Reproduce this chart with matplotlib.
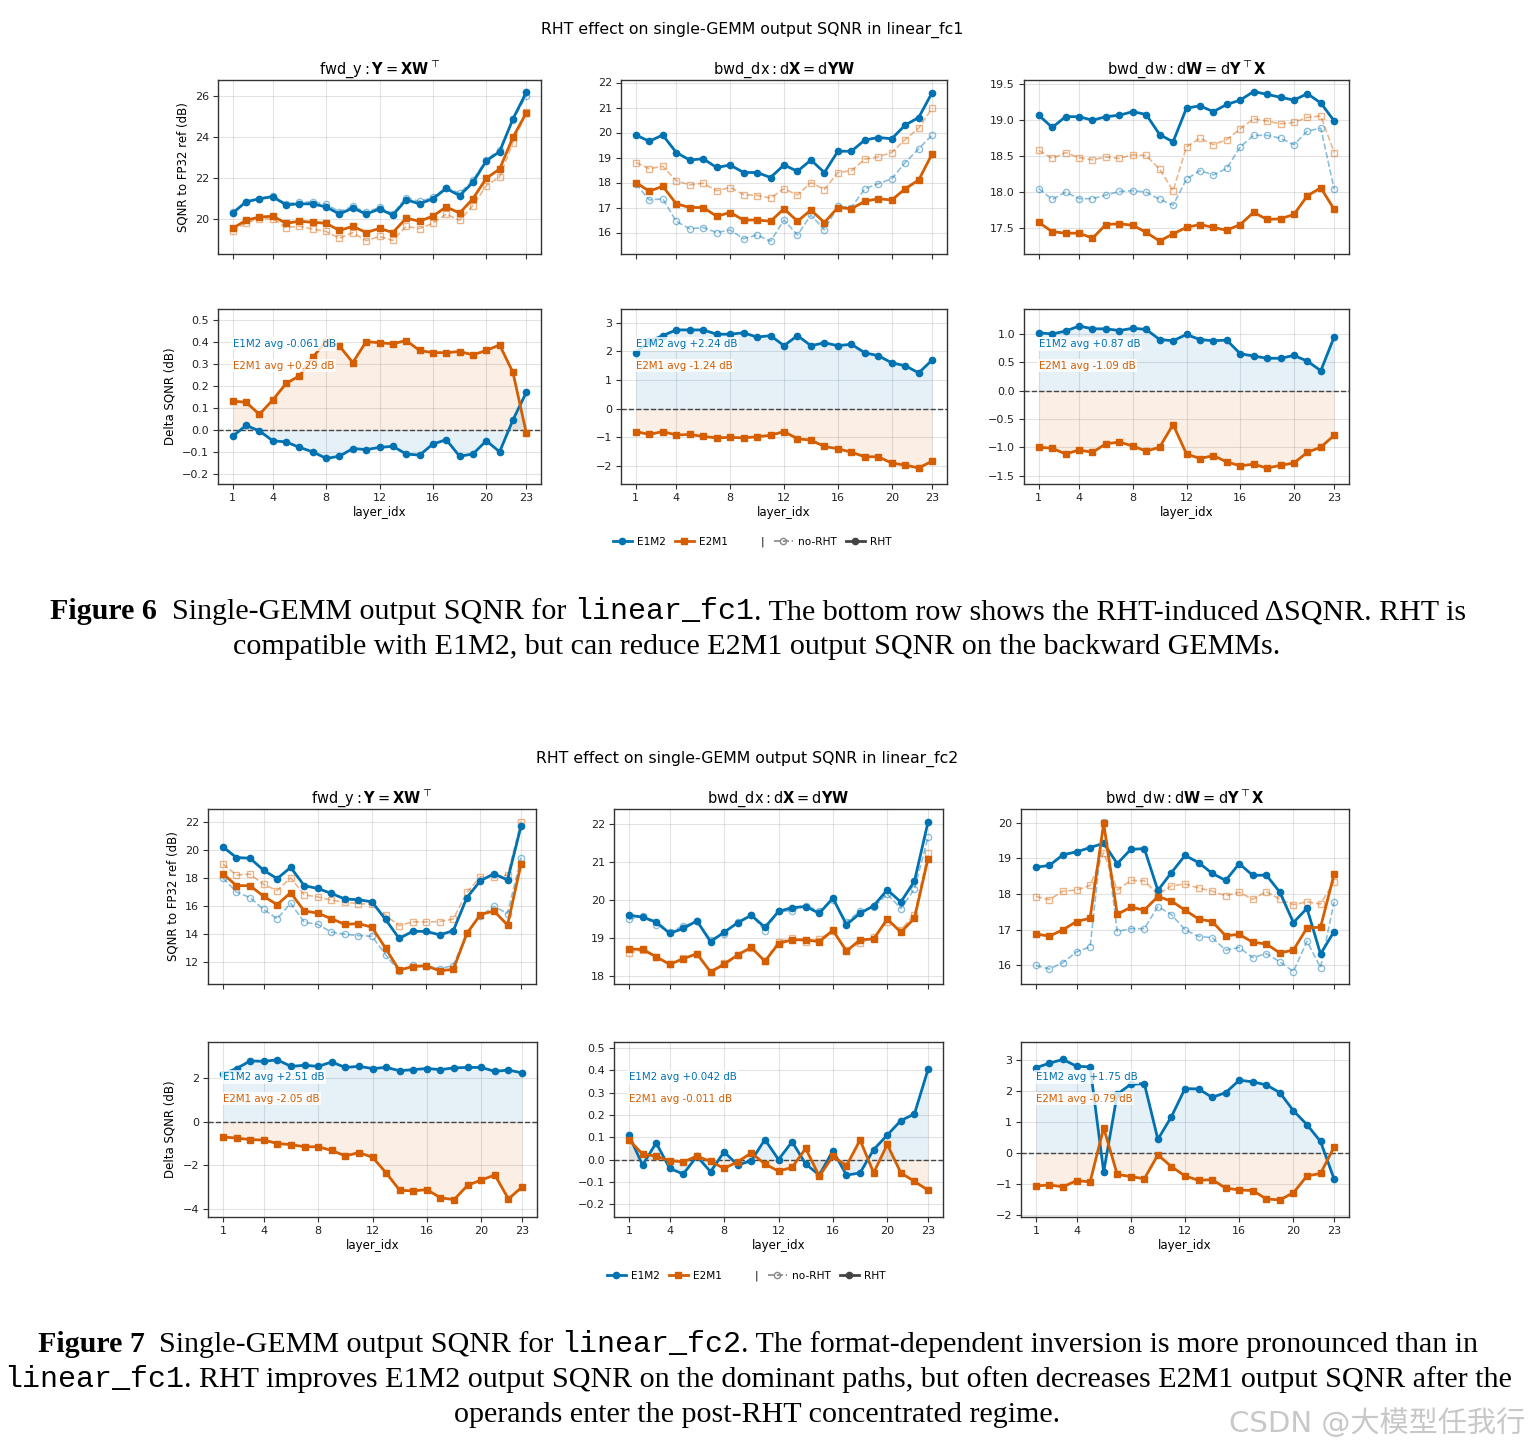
import matplotlib
matplotlib.use("Agg")
import matplotlib.pyplot as plt
from matplotlib.transforms import IdentityTransform
from matplotlib.lines import Line2D
from matplotlib.ticker import MultipleLocator
import numpy as np

# ---------------- data ----------------
layers = list(range(1, 24))
xticks = [1, 4, 8, 12, 16, 20, 23]

# linear_fc1
fc1_fwd_e1m2_rht = [20.30, 20.85, 21.00, 21.10, 20.70, 20.75, 20.75, 20.60, 20.25, 20.55, 20.25, 20.50, 20.20, 20.95, 20.75, 21.00, 21.50, 21.15, 21.80, 22.85, 23.30, 24.90, 26.20]
fc1_fwd_e1m2_delta = [-0.030, 0.020, -0.005, -0.050, -0.055, -0.080, -0.100, -0.130, -0.120, -0.085, -0.090, -0.080, -0.075, -0.110, -0.115, -0.065, -0.045, -0.120, -0.110, -0.050, -0.100, 0.045, 0.170]
fc1_fwd_e2m1_rht = [19.55, 19.95, 20.10, 20.15, 19.80, 19.90, 19.85, 19.80, 19.45, 19.65, 19.35, 19.55, 19.35, 20.05, 19.90, 20.15, 20.60, 20.30, 21.00, 22.00, 22.45, 24.00, 25.20]
fc1_fwd_e2m1_delta = [0.130, 0.125, 0.070, 0.135, 0.210, 0.245, 0.330, 0.400, 0.380, 0.305, 0.400, 0.395, 0.390, 0.405, 0.360, 0.350, 0.350, 0.355, 0.340, 0.360, 0.385, 0.260, -0.015]

fc1_dx_e1m2_rht = [19.90, 19.65, 19.90, 19.20, 18.90, 18.95, 18.60, 18.70, 18.40, 18.40, 18.20, 18.70, 18.45, 18.90, 18.40, 19.25, 19.25, 19.70, 19.80, 19.75, 20.30, 20.60, 21.60]
fc1_dx_e1m2_delta = [1.95, 2.35, 2.55, 2.75, 2.75, 2.75, 2.60, 2.60, 2.65, 2.50, 2.55, 2.20, 2.55, 2.20, 2.30, 2.20, 2.25, 1.95, 1.85, 1.60, 1.50, 1.25, 1.70]
fc1_dx_e2m1_rht = [18.00, 17.65, 17.85, 17.15, 17.00, 17.00, 16.65, 16.80, 16.50, 16.50, 16.45, 16.95, 16.45, 16.90, 16.40, 17.00, 16.95, 17.25, 17.35, 17.30, 17.75, 18.10, 19.15]
fc1_dx_e2m1_delta = [-0.80, -0.90, -0.80, -0.92, -0.90, -0.97, -1.02, -1.00, -1.02, -0.98, -0.93, -0.80, -1.05, -1.10, -1.32, -1.40, -1.52, -1.68, -1.68, -1.90, -1.97, -2.07, -1.83]

fc1_dw_e1m2_rht = [19.07, 18.90, 19.05, 19.05, 19.00, 19.05, 19.07, 19.12, 19.08, 18.80, 18.70, 19.17, 19.20, 19.12, 19.22, 19.28, 19.40, 19.36, 19.32, 19.28, 19.37, 19.24, 18.99]
fc1_dw_e1m2_delta = [1.02, 1.00, 1.05, 1.14, 1.09, 1.09, 1.06, 1.10, 1.08, 0.90, 0.88, 0.99, 0.90, 0.88, 0.89, 0.65, 0.61, 0.57, 0.57, 0.62, 0.52, 0.35, 0.95]
fc1_dw_e2m1_rht = [17.58, 17.45, 17.43, 17.43, 17.36, 17.55, 17.56, 17.54, 17.44, 17.32, 17.42, 17.51, 17.55, 17.51, 17.47, 17.55, 17.72, 17.62, 17.63, 17.69, 17.95, 18.06, 17.76]
fc1_dw_e2m1_delta = [-1.00, -1.02, -1.12, -1.05, -1.09, -0.94, -0.91, -0.98, -1.07, -1.00, -0.60, -1.12, -1.20, -1.15, -1.26, -1.33, -1.30, -1.37, -1.32, -1.28, -1.09, -1.00, -0.79]

fc1_e1m2_avg = ["-0.061", "+2.24", "+0.87"]
fc1_e2m1_avg = ["+0.29", "-1.24", "-1.09"]

# linear_fc2
fc2_fwd_e1m2_rht = [20.20, 19.45, 19.40, 18.55, 17.95, 18.75, 17.45, 17.25, 16.90, 16.50, 16.45, 16.30, 15.05, 13.70, 14.20, 14.20, 13.95, 14.25, 16.60, 17.80, 18.30, 17.85, 21.70]
fc2_fwd_e1m2_delta = [2.20, 2.45, 2.80, 2.78, 2.85, 2.55, 2.60, 2.55, 2.75, 2.50, 2.55, 2.45, 2.50, 2.35, 2.40, 2.45, 2.40, 2.48, 2.50, 2.50, 2.32, 2.38, 2.25]
fc2_fwd_e2m1_rht = [18.30, 17.45, 17.45, 16.70, 16.10, 16.95, 15.65, 15.50, 15.10, 14.70, 14.75, 14.50, 13.00, 11.45, 11.70, 11.75, 11.40, 11.50, 14.05, 15.40, 15.65, 14.65, 19.00]
fc2_fwd_e2m1_delta = [-0.70, -0.75, -0.82, -0.84, -1.00, -1.05, -1.15, -1.15, -1.32, -1.57, -1.42, -1.63, -2.35, -3.15, -3.18, -3.12, -3.50, -3.58, -2.92, -2.68, -2.45, -3.55, -3.00]

fc2_dx_e1m2_rht = [19.60, 19.55, 19.42, 19.12, 19.25, 19.45, 18.90, 19.15, 19.40, 19.60, 19.28, 19.70, 19.80, 19.83, 19.65, 20.05, 19.35, 19.65, 19.85, 20.27, 19.95, 20.50, 22.07]
fc2_dx_e1m2_delta = [0.110, -0.025, 0.075, -0.040, -0.065, 0.015, -0.055, 0.035, -0.025, -0.005, 0.090, 0.000, 0.080, -0.020, -0.070, 0.040, -0.070, -0.060, 0.045, 0.110, 0.175, 0.205, 0.405]
fc2_dx_e2m1_rht = [18.70, 18.70, 18.50, 18.30, 18.45, 18.58, 18.10, 18.30, 18.55, 18.75, 18.38, 18.85, 18.95, 18.95, 18.90, 19.20, 18.65, 18.95, 18.97, 19.50, 19.15, 19.52, 21.10]
fc2_dx_e2m1_delta = [0.088, 0.025, 0.015, -0.005, -0.010, 0.015, -0.008, -0.040, -0.010, 0.030, -0.020, -0.052, -0.035, 0.050, -0.075, 0.015, -0.028, 0.088, -0.060, 0.068, -0.060, -0.098, -0.138]

fc2_dw_e1m2_rht = [18.75, 18.80, 19.10, 19.18, 19.30, 19.42, 18.85, 19.25, 19.27, 18.10, 18.60, 19.08, 18.88, 18.58, 18.38, 18.85, 18.52, 18.53, 18.05, 17.20, 17.60, 16.32, 16.95]
fc2_dw_e1m2_delta = [2.75, 2.90, 3.02, 2.80, 2.78, -0.60, 1.90, 2.22, 2.24, 0.45, 1.18, 2.08, 2.07, 1.80, 1.95, 2.35, 2.30, 2.20, 1.95, 1.37, 0.92, 0.38, -0.83]
fc2_dw_e2m1_rht = [16.88, 16.82, 17.00, 17.23, 17.32, 19.98, 17.43, 17.63, 17.55, 17.93, 17.80, 17.55, 17.30, 17.23, 16.83, 16.87, 16.65, 16.60, 16.35, 16.43, 17.05, 17.07, 18.55]
fc2_dw_e2m1_delta = [-1.05, -1.02, -1.08, -0.88, -0.92, 0.82, -0.68, -0.75, -0.82, -0.05, -0.43, -0.73, -0.87, -0.85, -1.12, -1.18, -1.20, -1.47, -1.50, -1.27, -0.73, -0.65, 0.20]

fc2_e1m2_avg = ["+2.51", "+0.042", "+1.75"]
fc2_e2m1_avg = ["-2.05", "-0.011", "-0.79"]

panel_titles = [r"$\mathrm{fwd\_y}:\mathbf{Y}=\mathbf{XW}^{\top}$",
                r"$\mathrm{bwd\_dx}:\mathrm{d}\mathbf{X}=\mathrm{d}\mathbf{YW}$",
                r"$\mathrm{bwd\_dw}:\mathrm{d}\mathbf{W}=\mathrm{d}\mathbf{Y}^{\top}\mathbf{X}$"]

# ---------------- style ----------------
BLUE = "#0072B2"
ORANGE = "#D55E00"
W, H = 1528, 1450
fig = plt.figure(figsize=(W / 100, H / 100), dpi=100)
fig.patch.set_facecolor("white")
ID = IdentityTransform()

TICK_FS = 8
LABEL_FS = 8.5
TITLE_FS = 10.5
ANN_FS = 7.4
LEG_FS = 7.6


def add_ax(l, t, r, b):
    return fig.add_axes([l / W, 1 - b / H, (r - l) / W, (b - t) / H])


def style_ax(ax, ystep):
    ax.grid(True, color="#b0b0b0", alpha=0.35, lw=0.8)
    ax.set_axisbelow(True)
    for s in ax.spines.values():
        s.set_color("#333333")
        s.set_linewidth(1.0)
    ax.tick_params(labelsize=TICK_FS, length=3.5, color="#333333", labelcolor="#222222", pad=3)
    ax.set_xticks(xticks)
    ax.yaxis.set_major_locator(MultipleLocator(ystep))


def top_panel(ax, e1_rht, e1_d, e2_rht, e2_d, title, ylim, ystep, ylabel):
    x = np.array(layers)
    e1_rht = np.array(e1_rht); e2_rht = np.array(e2_rht)
    e1_no = e1_rht - np.array(e1_d)
    e2_no = e2_rht - np.array(e2_d)
    ax.plot(x, e1_no, ls="--", color=BLUE, lw=1.2, marker="o", ms=4.5, mfc="none", alpha=0.45, zorder=2)
    ax.plot(x, e2_no, ls="--", color=ORANGE, lw=1.2, marker="s", ms=4.5, mfc="none", alpha=0.45, zorder=2)
    ax.plot(x, e1_rht, ls="-", color=BLUE, lw=2.0, marker="o", ms=4.5, zorder=3)
    ax.plot(x, e2_rht, ls="-", color=ORANGE, lw=2.0, marker="s", ms=5, zorder=3)
    style_ax(ax, ystep)
    ax.set_ylim(*ylim)
    ax.set_title(title, fontsize=TITLE_FS, pad=4)
    ax.tick_params(labelbottom=False)
    if ylabel:
        ax.set_ylabel("SQNR to FP32 ref (dB)", fontsize=LABEL_FS)


def delta_panel(ax, e1_d, e2_d, e1_avg, e2_avg, ylim, ystep, ylabel):
    x = np.array(layers)
    ax.fill_between(x, 0, e1_d, color=BLUE, alpha=0.1, lw=0, zorder=1)
    ax.fill_between(x, 0, e2_d, color=ORANGE, alpha=0.1, lw=0, zorder=1)
    ax.axhline(0, color="#444444", ls="--", lw=1.0, zorder=2)
    ax.plot(x, e1_d, color=BLUE, lw=2.0, marker="o", ms=4.5, zorder=3)
    ax.plot(x, e2_d, color=ORANGE, lw=2.0, marker="s", ms=5, zorder=3)
    style_ax(ax, ystep)
    ax.set_ylim(*ylim)
    ax.set_xlabel("layer_idx", fontsize=LABEL_FS, labelpad=2)
    bb = dict(boxstyle="square,pad=0.15", fc="white", ec="none", alpha=0.8)
    ax.text(0.045, 0.80, f"E1M2 avg {e1_avg} dB", transform=ax.transAxes, color=BLUE,
            fontsize=ANN_FS, va="center", ha="left", bbox=bb, zorder=5)
    ax.text(0.045, 0.675, f"E2M1 avg {e2_avg} dB", transform=ax.transAxes, color=ORANGE,
            fontsize=ANN_FS, va="center", ha="left", bbox=bb, zorder=5)
    if ylabel:
        ax.set_ylabel("Delta SQNR (dB)", fontsize=LABEL_FS)


def legend(cx, cy):
    hs = [Line2D([], [], color=BLUE, lw=2, marker="o", ms=4.5),
          Line2D([], [], color=ORANGE, lw=2, marker="s", ms=5),
          Line2D([], [], color="none", lw=0),
          Line2D([], [], color="#888888", lw=1.2, ls="--", marker="o", ms=4.5, mfc="none"),
          Line2D([], [], color="#444444", lw=2, marker="o", ms=4.5)]
    fig.legend(hs, ["E1M2", "E2M1", "|", "no-RHT", "RHT"], loc="center",
               bbox_to_anchor=(cx / W, 1 - cy / H), ncol=5, frameon=False,
               fontsize=LEG_FS, handlelength=1.8, columnspacing=0.9, handletextpad=0.45)


# ---------------- figure 6 (fc1) ----------------
fc1_top = [(218, 80, 541, 254), (621, 80, 947, 254), (1024, 80, 1349, 254)]
fc1_bot = [(218, 309, 541, 484), (621, 309, 947, 484), (1024, 309, 1349, 484)]
fc1_data = [(fc1_fwd_e1m2_rht, fc1_fwd_e1m2_delta, fc1_fwd_e2m1_rht, fc1_fwd_e2m1_delta),
            (fc1_dx_e1m2_rht, fc1_dx_e1m2_delta, fc1_dx_e2m1_rht, fc1_dx_e2m1_delta),
            (fc1_dw_e1m2_rht, fc1_dw_e1m2_delta, fc1_dw_e2m1_rht, fc1_dw_e2m1_delta)]
fc1_top_ylim = [(18.3, 26.8), (15.14, 22.1), (17.14, 19.56)]
fc1_top_ystep = [2, 1, 0.5]
fc1_bot_ylim = [(-0.246, 0.548), (-2.63, 3.48), (-1.65, 1.44)]
fc1_bot_ystep = [0.1, 1, 0.5]
for i in range(3):
    a, b, c, d = fc1_data[i]
    top_panel(add_ax(*fc1_top[i]), a, b, c, d, panel_titles[i], fc1_top_ylim[i], fc1_top_ystep[i], i == 0)
    delta_panel(add_ax(*fc1_bot[i]), b, d, fc1_e1m2_avg[i], fc1_e2m1_avg[i], fc1_bot_ylim[i], fc1_bot_ystep[i], i == 0)
fig.text(752 / W, 1 - 30 / H, "RHT effect on single-GEMM output SQNR in linear_fc1",
         ha="center", va="center", fontsize=11.3)
legend(752, 542)

# ---------------- figure 7 (fc2) ----------------
fc2_top = [(208, 809, 536, 984), (614, 809, 943, 984), (1021, 809, 1349, 984)]
fc2_bot = [(208, 1042, 537, 1217), (614, 1042, 943, 1217), (1021, 1042, 1349, 1217)]
fc2_data = [(fc2_fwd_e1m2_rht, fc2_fwd_e1m2_delta, fc2_fwd_e2m1_rht, fc2_fwd_e2m1_delta),
            (fc2_dx_e1m2_rht, fc2_dx_e1m2_delta, fc2_dx_e2m1_rht, fc2_dx_e2m1_delta),
            (fc2_dw_e1m2_rht, fc2_dw_e1m2_delta, fc2_dw_e2m1_rht, fc2_dw_e2m1_delta)]
fc2_top_ylim = [(10.46, 22.9), (17.78, 22.41), (15.48, 20.38)]
fc2_top_ystep = [2, 1, 1]
fc2_bot_ylim = [(-4.38, 3.67), (-0.258, 0.528), (-2.05, 3.58)]
fc2_bot_ystep = [2, 0.1, 1]
for i in range(3):
    a, b, c, d = fc2_data[i]
    top_panel(add_ax(*fc2_top[i]), a, b, c, d, panel_titles[i], fc2_top_ylim[i], fc2_top_ystep[i], i == 0)
    delta_panel(add_ax(*fc2_bot[i]), b, d, fc2_e1m2_avg[i], fc2_e2m1_avg[i], fc2_bot_ylim[i], fc2_bot_ystep[i], i == 0)
fig.text(747 / W, 1 - 759 / H, "RHT effect on single-GEMM output SQNR in linear_fc2",
         ha="center", va="center", fontsize=11.3)
legend(746, 1276)

# ---------------- captions ----------------
renderer = fig.canvas.get_renderer()
SERIF = "Liberation Serif"
MONO = "Liberation Mono"
N = dict(family=SERIF)
B = dict(family=SERIF, weight="bold")
M = dict(family=MONO)


def width_of(s, size, props):
    t1 = fig.text(0, 0, s + "|", transform=ID, fontsize=size, **props)
    t2 = fig.text(0, 0, "|", transform=ID, fontsize=size, **props)
    w = t1.get_window_extent(renderer).width - t2.get_window_extent(renderer).width
    t1.remove(); t2.remove()
    return w


def rich_line(pieces, cx, y_base, size):
    ws = [width_of(s, size, p) for s, p in pieces]
    x = cx - sum(ws) / 2
    for (s, p), w in zip(pieces, ws):
        fig.text(x, H - y_base, s, transform=ID, fontsize=size, va="baseline", ha="left", **p)
        x += w


cap6_l1 = [("Figure 6", B), ("  Single-GEMM output SQNR for ", N), ("linear_fc1", M),
           (". The bottom row shows the RHT-induced \u0394SQNR. RHT is", N)]
cap6_l2 = [("compatible with E1M2, but can reduce E2M1 output SQNR on the backward GEMMs.", N)]
cap7_l1 = [("Figure 7", B), ("  Single-GEMM output SQNR for ", N), ("linear_fc2", M),
           (". The format-dependent inversion is more pronounced than in", N)]
cap7_l2 = [("linear_fc1", M), (". RHT improves E1M2 output SQNR on the dominant paths, but often decreases E2M1 output SQNR after the", N)]
cap7_l3 = [("operands enter the post-RHT concentrated regime.", N)]

base = 20.0
w0 = sum(width_of(s, base, p) for s, p in cap6_l1)
csize = base * 1416 / w0

rich_line(cap6_l1, 758, 619, csize)
rich_line(cap6_l2, 757, 654, csize)
rich_line(cap7_l1, 758, 1352, csize)
rich_line(cap7_l2, 758, 1387, csize)
rich_line(cap7_l3, 757, 1422, csize)

fig.text(1525 / W, 1 - 1423 / H, "CSDN @大模型任我行", ha="right", va="center", fontsize=21,
         color="#c8c8c8", family=["DejaVu Sans", "Noto Sans CJK SC"])

fig.savefig("out.png", dpi=100, facecolor="white")
